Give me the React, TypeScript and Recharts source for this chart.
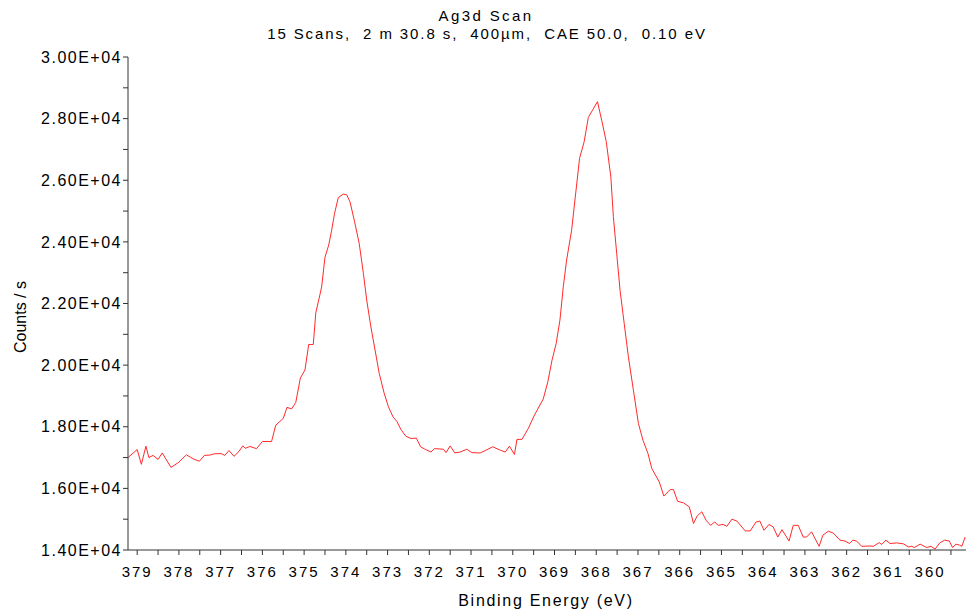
import { LineChart, Line, XAxis, YAxis } from 'recharts';

// Binding energy (eV) and counts/s
const energy = [
  379.22, 379.0, 378.9, 378.79, 378.72, 378.62, 378.5, 378.4, 378.19, 378.0,
  377.82, 377.66, 377.51, 377.39, 377.26, 377.16, 376.99, 376.9, 376.8, 376.68,
  376.56, 376.47, 376.41, 376.3, 376.14, 376.0, 375.78, 375.68, 375.5, 375.41,
  375.3, 375.2, 375.09, 374.98, 374.89, 374.78, 374.72, 374.64, 374.58, 374.5,
  374.41, 374.34, 374.27, 374.18, 374.06, 373.98, 373.9, 373.79, 373.68, 373.58,
  373.5, 373.4, 373.3, 373.2, 373.08, 372.98, 372.87, 372.78, 372.68, 372.56,
  372.44, 372.31, 372.21, 372.09, 371.96, 371.88, 371.76, 371.66, 371.6, 371.5,
  371.39, 371.26, 371.1, 370.98, 370.78, 370.64, 370.48, 370.3, 370.18, 370.08,
  369.96, 369.9, 369.78, 369.63, 369.48, 369.27, 369.16, 369.06, 368.96, 368.87,
  368.79, 368.71, 368.59, 368.51, 368.4, 368.29, 368.19, 367.97, 367.87, 367.76,
  367.65, 367.59, 367.51, 367.43, 367.33, 367.23, 367.11, 366.99, 366.88, 366.76,
  366.67, 366.49, 366.38, 366.23, 366.15, 366.05, 365.91, 365.77, 365.67, 365.58,
  365.47, 365.37, 365.26, 365.16, 365.08, 364.96, 364.87, 364.75, 364.63, 364.43,
  364.31, 364.17, 364.08, 363.98, 363.86, 363.76, 363.65, 363.55, 363.38, 363.28,
  363.16, 363.04, 362.96, 362.84, 362.66, 362.57, 362.44, 362.32, 362.16, 362.04,
  361.93, 361.85, 361.76, 361.64, 361.44, 361.36, 361.22, 361.16, 361.06, 360.96,
  360.8, 360.64, 360.52, 360.44, 360.38, 360.24, 360.08, 359.98, 359.88, 359.77,
  359.65, 359.54, 359.46, 359.38, 359.3, 359.24, 359.16,
];

const counts = [
  17000, 17260, 16780, 17370, 17000, 17070, 16940, 17150, 16680, 16850,
  17090, 16960, 16880, 17070, 17080, 17120, 17130, 17070, 17230, 17040,
  17200, 17380, 17300, 17360, 17290, 17520, 17520, 18050, 18270, 18630,
  18580, 18790, 19580, 19840, 20670, 20670, 21700, 22170, 22540, 23500,
  23900, 24380, 24930, 25440, 25550, 25530, 25300, 24650, 23950, 22980,
  22110, 21240, 20490, 19730, 19080, 18650, 18320, 18180, 17910, 17690,
  17620, 17630, 17350, 17260, 17180, 17290, 17280, 17270, 17160, 17380,
  17150, 17180, 17270, 17160, 17150, 17240, 17350, 17240, 17180, 17370,
  17100, 17590, 17590, 17940, 18380, 18900, 19460, 20160, 20700, 21460,
  22540, 23410, 24380, 25360, 26710, 27250, 28040, 28550, 27950, 27250,
  26110, 24820, 23630, 22430, 21350, 20270, 19190, 18110, 17560, 17130,
  16650, 16210, 15750, 15960, 15960, 15580, 15530, 15400, 14860, 15110,
  15240, 14970, 14800, 14910, 14800, 14830, 14770, 15000, 14940, 14620,
  14620, 14910, 14940, 14640, 14830, 14750, 14420, 14660, 14290, 14800,
  14800, 14420, 14420, 14590, 14120, 14480, 14610, 14550, 14320, 14290,
  14210, 14320, 14290, 14120, 14130, 14120, 14240, 14180, 14320, 14210,
  14230, 14200, 14100, 14120, 14080, 14190, 14080, 14120, 14030, 14230,
  14320, 14290, 14080, 14190, 14160, 14120, 14420,
];

const xTicks = [
  359.5, 360, 360.5, 361, 361.5, 362, 362.5, 363, 363.5, 364, 364.5, 365, 365.5,
  366, 366.5, 367, 367.5, 368, 368.5, 369, 369.5, 370, 370.5, 371, 371.5, 372,
  372.5, 373, 373.5, 374, 374.5, 375, 375.5, 376, 376.5, 377, 377.5, 378, 378.5, 379,
];

const yTicks = [
  14000, 15000, 16000, 17000, 18000, 19000, 20000, 21000, 22000, 23000, 24000,
  25000, 26000, 27000, 28000, 29000, 30000,
];

const title = 'Ag3d Scan';
const subtitle = '15 Scans,  2 m 30.8 s,  400µm,  CAE 50.0,  0.10 eV';

const data = energy.map((e, i) => ({ e, c: counts[i] }));

const FONT = '"Liberation Sans", Arial, sans-serif';

const App = () => {
  return (
    <div
      style={{
        position: 'absolute',
        left: 0,
        top: 0,
        width: 967,
        height: 613,
        background: '#fff',
        fontFamily: FONT,
      }}
    >
      <LineChart width={967} height={613} data={data} margin={{ top: 57, right: 1, bottom: 0, left: 0 }}>
        <XAxis
          dataKey="e"
          type="number"
          domain={[359.14, 379.22]}
          allowDataOverflow
          reversed
          ticks={xTicks}
          interval={0}
          height={63}
          tickSize={5}
          tickMargin={11}
          stroke="#333"
          tick={{ fill: '#000', fontSize: 15, letterSpacing: 2, fontFamily: FONT }}
          tickFormatter={(v) => (Number.isInteger(v) ? String(v) : '')}
        />
        <XAxis
          xAxisId="top"
          orientation="top"
          type="number"
          domain={[359.14, 379.22]}
          allowDataOverflow
          reversed
          height={0}
          tick={false}
          tickLine={false}
          stroke="#777"
        />
        <YAxis
          type="number"
          domain={[14000, 30000]}
          allowDataOverflow
          ticks={yTicks}
          interval={0}
          width={128}
          tickSize={5}
          tickMargin={1}
          stroke="#333"
          tick={{ fill: '#000', fontSize: 16, letterSpacing: 1.5, fontFamily: FONT }}
          tickFormatter={(v) => (v % 2000 === 0 ? (v / 10000).toFixed(2) + 'E+04' : '')}
        />
        <YAxis
          yAxisId="right"
          orientation="right"
          type="number"
          domain={[14000, 30000]}
          width={0}
          tick={false}
          tickLine={false}
          stroke="#555"
        />
        <Line
          type="linear"
          dataKey="c"
          stroke="#ff2a2a"
          strokeWidth={1}
          dot={false}
          isAnimationActive={false}
        />
      </LineChart>
      <svg
        width={967}
        height={613}
        style={{ position: 'absolute', left: 0, top: 0, pointerEvents: 'none' }}
      >
        <text x={486} y={21} textAnchor="middle" fontSize={15} letterSpacing={2.4} fill="#000" fontFamily={FONT} style={{ whiteSpace: 'pre' }}>
          {title}
        </text>
        <text x={487} y={38.5} textAnchor="middle" fontSize={15} letterSpacing={1.9} fill="#000" fontFamily={FONT} style={{ whiteSpace: 'pre' }}>
          {subtitle}
        </text>
        <text x={546} y={605.5} textAnchor="middle" fontSize={16} letterSpacing={1.7} fill="#000" fontFamily={FONT}>
          Binding Energy (eV)
        </text>
        <text
          x={26}
          y={317}
          textAnchor="middle"
          fontSize={16}
          fill="#000"
          fontFamily={FONT}
          transform="rotate(-90 26 317)"
        >
          Counts / s
        </text>
      </svg>
    </div>
  );
};

export default App;
